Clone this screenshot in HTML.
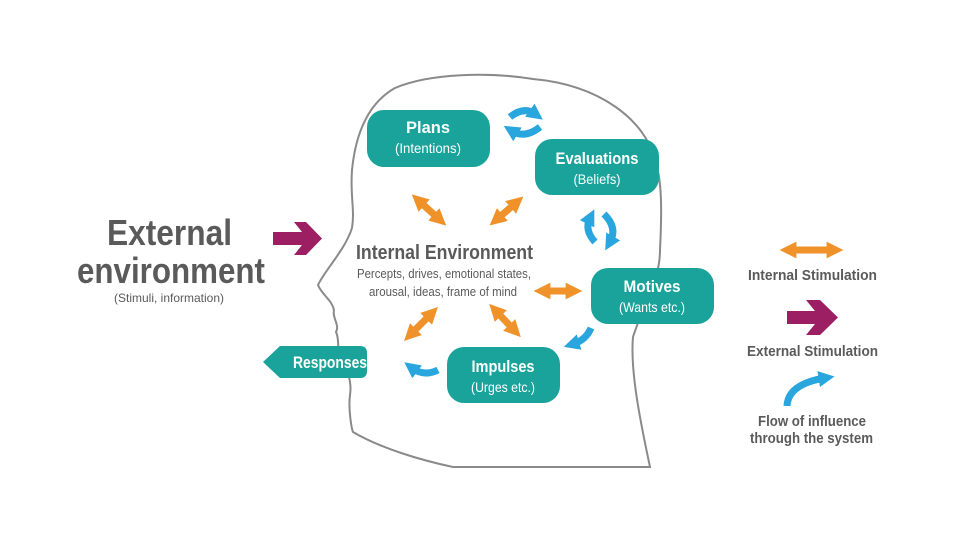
<!DOCTYPE html>
<html><head><style>
html,body{margin:0;padding:0;background:#fff;}
svg{display:block;}
text{font-family:"Liberation Sans",sans-serif;}
</style></head><body>
<svg width="960" height="540" viewBox="0 0 960 540" xmlns="http://www.w3.org/2000/svg">
<defs>
<marker id="oh" viewBox="0 0 10 10" refX="5" refY="5" markerWidth="2.4" markerHeight="2.4" orient="auto-start-reverse"><path d="M0,0 L10,5 L0,10 Z" fill="#f0922a"/></marker>
<marker id="bh" viewBox="0 0 10 10" refX="4" refY="5" markerWidth="2.3" markerHeight="2.3" orient="auto"><path d="M0,0 L10,5 L0,10 Z" fill="#29a6de"/></marker>
</defs>
<path d="M453,467 L650,467 C640,420 630,370 633,337 C645,300 660,280 660,250 C662,210 662,180 655,160 C645,120 600,85 533,79 C490,72 430,73 395,88 C365,105 355,140 352,170 C350,195 355,210 352,228 C345,250 325,270 318,285 C322,295 332,300 334,310 C332,318 340,325 336,332 C340,340 336,350 342,360 C348,372 352,382 350,395 C348,410 352,430 353,432 C380,448 420,460 453,467 Z" fill="none" stroke="#8a8a8a" stroke-width="2"/>
<g fill="#1aa39a">
<rect x="367" y="110" width="123" height="57" rx="17"/>
<rect x="535" y="139" width="124" height="56" rx="17"/>
<rect x="591" y="268" width="123" height="56" rx="17"/>
<rect x="447" y="347" width="113" height="56" rx="17"/>
<path d="M263,362 L280,346 L360,346 Q367,346 367,353 L367,371 Q367,378 360,378 L280,378 Z"/>
</g>
<g fill="#fff" text-anchor="middle">
<text x="428" y="133" font-size="17" font-weight="bold" textLength="44" lengthAdjust="spacingAndGlyphs">Plans</text>
<text x="428" y="153" font-size="14" textLength="66" lengthAdjust="spacingAndGlyphs">(Intentions)</text>
<text x="597" y="164" font-size="17" font-weight="bold" textLength="83" lengthAdjust="spacingAndGlyphs">Evaluations</text>
<text x="597" y="184" font-size="14" textLength="47" lengthAdjust="spacingAndGlyphs">(Beliefs)</text>
<text x="652" y="292" font-size="17" font-weight="bold" textLength="57" lengthAdjust="spacingAndGlyphs">Motives</text>
<text x="652" y="312" font-size="14" textLength="66" lengthAdjust="spacingAndGlyphs">(Wants etc.)</text>
<text x="503" y="372" font-size="17" font-weight="bold" textLength="63" lengthAdjust="spacingAndGlyphs">Impulses</text>
<text x="503" y="392" font-size="14" textLength="64" lengthAdjust="spacingAndGlyphs">(Urges etc.)</text>
<text x="330" y="368" font-size="17" font-weight="bold" textLength="74" lengthAdjust="spacingAndGlyphs">Responses</text>
</g>
<g fill="#5a5a5a">
<text x="107" y="245" font-size="36" font-weight="bold" textLength="125" lengthAdjust="spacingAndGlyphs">External</text>
<text x="77" y="283" font-size="36" font-weight="bold" textLength="188" lengthAdjust="spacingAndGlyphs">environment</text>
<text x="114" y="302" font-size="12" textLength="110" lengthAdjust="spacingAndGlyphs">(Stimuli, information)</text>
<text x="356" y="259" font-size="20" font-weight="bold" textLength="177" lengthAdjust="spacingAndGlyphs">Internal Environment</text>
<text x="357" y="278" font-size="13" textLength="174" lengthAdjust="spacingAndGlyphs">Percepts, drives, emotional states,</text>
<text x="369" y="296" font-size="13" textLength="148" lengthAdjust="spacingAndGlyphs">arousal, ideas, frame of mind</text>
<text x="748" y="280" font-size="15" font-weight="bold" textLength="129" lengthAdjust="spacingAndGlyphs">Internal Stimulation</text>
<text x="747" y="356" font-size="15" font-weight="bold" textLength="131" lengthAdjust="spacingAndGlyphs">External Stimulation</text>
<text x="758" y="426" font-size="15" font-weight="bold" textLength="108" lengthAdjust="spacingAndGlyphs">Flow of influence</text>
<text x="750" y="443" font-size="15" font-weight="bold" textLength="123" lengthAdjust="spacingAndGlyphs">through the system</text>
</g>
<path d="M273,232 L302,232 L294,222 L306,222 L322,238.5 L306,255 L294,255 L302,245 L273,245 Z" fill="#9b1f62"/>
<path d="M787,311 L815,311 L806,300 L820,300 L838,317.5 L820,335 L806,335 L815,324 L787,324 Z" fill="#9b1f62"/>
<g stroke="#f0922a" stroke-width="7" marker-start="url(#oh)" marker-end="url(#oh)" fill="none">
<line x1="418" y1="200" x2="440" y2="220"/>
<line x1="517" y1="202" x2="496" y2="220"/>
<line x1="542" y1="291" x2="574" y2="291"/>
<line x1="410" y1="335" x2="432" y2="313"/>
<line x1="495" y1="310" x2="515" y2="331"/>
<line x1="788" y1="250" x2="835" y2="250"/>
</g>
<g stroke="#29a6de" stroke-width="7" fill="none" marker-end="url(#bh)">
<path d="M510,117 Q524,106 535,114"/>
<path d="M540,127 Q525,139 512,131"/>
<path d="M595,242 Q584,230 590,218"/>
<path d="M604,214 Q618,228 610,242"/>
<path d="M591,328 Q586,340 573,344"/>
<path d="M438,370 Q424,377 412,368"/>
<path d="M787,406 Q788,384 825,378"/>
</g>
</svg>
</body></html>
